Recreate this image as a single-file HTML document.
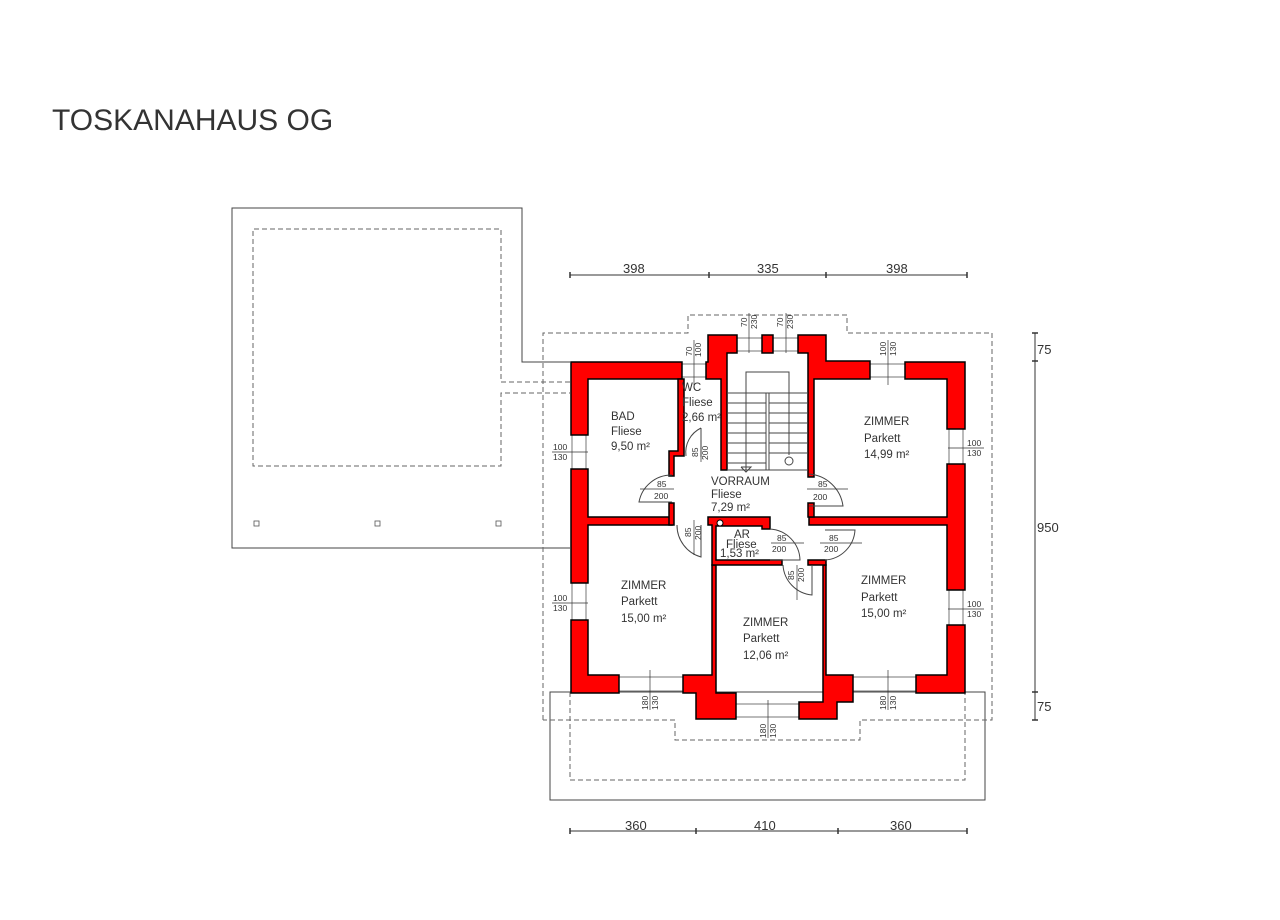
<!DOCTYPE html>
<html><head><meta charset="utf-8"><style>
html,body{margin:0;padding:0;background:#fff;width:1280px;height:920px;overflow:hidden}
svg{display:block}
text{font-family:"Liberation Sans",sans-serif;fill:#333}
.t{font-size:11.5px}
.s{font-size:8px}
</style></head><body>
<svg width="1280" height="920" viewBox="0 0 1280 920" xmlns="http://www.w3.org/2000/svg">
<text x="52" y="130" style="font-size:30px;fill:#333">TOSKANAHAUS OG</text>

<g fill="none" stroke="#444" stroke-width="1">
<polyline points="570,362 522,362 522,208 232,208 232,548 570,548"/>
<rect x="550" y="692" width="435" height="108"/>
</g>
<g fill="none" stroke="#666" stroke-width="1" stroke-dasharray="5,3">
<polyline points="570,382 501,382 501,229 253,229 253,466 501,466 501,393 570,393"/>
<polyline points="543,720 543,333 688,333 688,315 847,315 847,333 992,333 992,720 860,720 860,740 675,740 675,720 543,720"/>
<polyline points="570,692 570,780 965,780 965,692"/>
</g>
<g fill="none" stroke="#555" stroke-width="0.8">
<rect x="254" y="521" width="5" height="5"/><rect x="375" y="521" width="5" height="5"/><rect x="496" y="521" width="5" height="5"/>
</g>

<g stroke="#333" stroke-width="1" fill="none">
<line x1="570" y1="275" x2="967" y2="275"/>
<line x1="570" y1="831" x2="967" y2="831"/>
<line x1="1035" y1="333" x2="1035" y2="720"/>
</g>
<g stroke="#333" stroke-width="1.5">
<line x1="570" y1="272" x2="570" y2="278"/><line x1="709" y1="272" x2="709" y2="278"/><line x1="826" y1="272" x2="826" y2="278"/><line x1="967" y1="272" x2="967" y2="278"/>
<line x1="570" y1="828" x2="570" y2="834"/><line x1="696" y1="828" x2="696" y2="834"/><line x1="838" y1="828" x2="838" y2="834"/><line x1="967" y1="828" x2="967" y2="834"/>
<line x1="1032" y1="333" x2="1038" y2="333"/><line x1="1032" y1="361" x2="1038" y2="361"/><line x1="1032" y1="692" x2="1038" y2="692"/><line x1="1032" y1="720" x2="1038" y2="720"/>
</g>
<g style="font-size:13px">
<text x="623" y="273">398</text><text x="757" y="273">335</text><text x="886" y="273">398</text>
<text x="625" y="830">360</text><text x="754" y="830">410</text><text x="890" y="830">360</text>
<text x="1037" y="354">75</text><text x="1037" y="532">950</text><text x="1037" y="711">75</text>
</g>

<g stroke="#777" stroke-width="1" fill="none">
<rect x="572" y="435" width="14" height="34"/>
<rect x="572" y="583" width="14" height="37"/>
<rect x="949" y="429" width="14" height="35"/>
<rect x="949" y="590" width="14" height="35"/>
<rect x="619" y="677" width="64" height="14"/>
<rect x="853" y="677" width="63" height="14"/>
<rect x="736" y="704" width="63" height="13"/>
<rect x="682" y="364" width="24" height="13"/>
<rect x="870" y="364" width="35" height="13"/>
<rect x="737" y="338" width="25" height="13"/>
<rect x="773" y="338" width="25" height="13"/>
</g>

<g fill="#f00" stroke="#000" stroke-width="1.5">
<polygon points="571,362 682,362 682,379 588,379 588,435 571,435"/>
<polygon points="571,469 588,469 588,517 672,517 672,525 588,525 588,583 571,583"/>
<polygon points="571,620 588,620 588,675 619,675 619,693 571,693"/>
<polygon points="947,362 965,362 965,429 947,429 947,379 905,379 905,362"/>
<polygon points="947,464 965,464 965,590 947,590 947,525 809,525 809,517 947,517"/>
<polygon points="947,625 965,625 965,693 916,693 916,675 947,675"/>
<polygon points="683,675 712,675 712,565 716,565 716,693 736,693 736,719 696,719 696,693 683,693"/>
<polygon points="823,565 826,565 826,675 853,675 853,702 837,702 837,719 799,719 799,702 823,702"/>
<polygon points="708,335 737,335 737,353 727,353 727,470 721,470 721,379 706,379 706,362 708,362"/>
<polygon points="762,335 773,335 773,353 762,353"/>
<polygon points="798,335 826,335 826,361 870,361 870,379 814,379 814,477 808,477 808,353 798,353"/>
<polygon points="678,379 684,379 684,456 674,456 674,476 669,476 669,451 678,451"/>
<polygon points="669,503 674,503 674,525 669,525"/>
<polygon points="708,517 770,517 770,529 762,529 762,526 716,526 716,560 782,560 782,565 712,565 712,525 708,525"/>
<rect x="808" y="560" width="18" height="5"/>
<rect x="808" y="503" width="6" height="14"/>
</g>
<circle cx="720" cy="523" r="3" fill="#fff" stroke="#000"/>

<g stroke="#444" stroke-width="1" fill="none">
<polyline points="746,470 746,372 789,372 789,455"/>
<rect x="766" y="393" width="3" height="77"/>
<line x1="727" y1="470" x2="808" y2="470"/>
<line x1="727" y1="393" x2="766" y2="393"/><line x1="769" y1="393" x2="808" y2="393"/>
<line x1="727" y1="403" x2="766" y2="403"/><line x1="769" y1="403" x2="808" y2="403"/>
<line x1="727" y1="413" x2="766" y2="413"/><line x1="769" y1="413" x2="808" y2="413"/>
<line x1="727" y1="423" x2="766" y2="423"/><line x1="769" y1="423" x2="808" y2="423"/>
<line x1="727" y1="433" x2="766" y2="433"/><line x1="769" y1="433" x2="808" y2="433"/>
<line x1="727" y1="443" x2="766" y2="443"/><line x1="769" y1="443" x2="808" y2="443"/>
<line x1="727" y1="453" x2="766" y2="453"/><line x1="769" y1="453" x2="808" y2="453"/>
<line x1="727" y1="463" x2="766" y2="463"/>
<circle cx="789" cy="461" r="4"/>
<polyline points="741,467 746,472 751,467 741,467"/>
</g>

<g stroke="#444" stroke-width="1" fill="none">
<path d="M672,475 A33,33 0 0 0 639,502 L672,502"/>
<path d="M701,428 A27,27 0 0 0 686,456"/><line x1="701" y1="428" x2="701" y2="457"/>
<path d="M809,474 A37,37 0 0 1 843,506 L809,506"/>
<path d="M677,525 A33,33 0 0 0 701,557 L701,525"/>
<path d="M770,529 A32,32 0 0 1 800,560 L770,560"/>
<path d="M783,565 A32,32 0 0 0 812,595 L812,565"/>
<path d="M825,560 A32,32 0 0 0 855,530 L825,530"/>
</g>

<g class="s" stroke="#333" stroke-width="0.7">
<line x1="552" y1="452" x2="588" y2="452"/><line x1="552" y1="603" x2="588" y2="603"/>
<line x1="948" y1="448" x2="984" y2="448"/><line x1="948" y1="609" x2="984" y2="609"/>
<line x1="650" y1="670" x2="650" y2="710"/><line x1="888" y1="670" x2="888" y2="710"/><line x1="768" y1="700" x2="768" y2="738"/>
<line x1="694" y1="340" x2="694" y2="385"/><line x1="888" y1="340" x2="888" y2="385"/>
<line x1="749" y1="313" x2="749" y2="353"/><line x1="786" y1="313" x2="786" y2="353"/>
<line x1="640" y1="489" x2="674" y2="489"/><line x1="807" y1="489" x2="848" y2="489"/>
<line x1="771" y1="543" x2="804" y2="543"/><line x1="820" y1="543" x2="862" y2="543"/>
<line x1="701" y1="440" x2="701" y2="462"/><line x1="694" y1="520" x2="694" y2="555"/><line x1="797" y1="565" x2="797" y2="600"/>
</g>
<g class="s" style="font-size:8.5px">
<text x="553" y="450">100</text><text x="553" y="460">130</text>
<text x="553" y="601">100</text><text x="553" y="611">130</text>
<text x="967" y="446">100</text><text x="967" y="456">130</text>
<text x="967" y="607">100</text><text x="967" y="617">130</text>
<text x="818" y="487">85</text><text x="813" y="500">200</text>
<text x="657" y="487">85</text><text x="654" y="499">200</text>
<text x="777" y="541">85</text><text x="772" y="552">200</text>
<text x="829" y="541">85</text><text x="824" y="552">200</text>
<g transform="rotate(-90)">
<text x="-710" y="648">180</text><text x="-710" y="658">130</text>
<text x="-710" y="886">180</text><text x="-710" y="896">130</text>
<text x="-738" y="766">180</text><text x="-738" y="776">130</text>
<text x="-356" y="692">70</text><text x="-357" y="701">100</text>
<text x="-356" y="886">100</text><text x="-356" y="896">130</text>
<text x="-327" y="747">70</text><text x="-329" y="757">230</text>
<text x="-327" y="783">70</text><text x="-329" y="793">230</text>
<text x="-457" y="698">85</text><text x="-460" y="708">200</text>
<text x="-537" y="691">85</text><text x="-540" y="701">200</text>
<text x="-580" y="794">85</text><text x="-582" y="804">200</text>
</g>
</g>

<g class="t">
<text x="611" y="420">BAD</text><text x="611" y="435">Fliese</text><text x="611" y="450">9,50 m²</text>
<text x="682" y="391">WC</text><text x="682" y="406">Fliese</text><text x="682" y="421">2,66 m²</text>
<text x="864" y="425">ZIMMER</text><text x="864" y="442">Parkett</text><text x="864" y="458">14,99 m²</text>
<text x="711" y="485">VORRAUM</text><text x="711" y="498">Fliese</text><text x="711" y="511">7,29  m²</text>
<text x="734" y="538">AR</text><text x="726" y="548">Fliese</text><text x="720" y="557">1,53 m²</text>
<text x="621" y="589">ZIMMER</text><text x="621" y="605">Parkett</text><text x="621" y="622">15,00 m²</text>
<text x="861" y="584">ZIMMER</text><text x="861" y="601">Parkett</text><text x="861" y="617">15,00 m²</text>
<text x="743" y="626">ZIMMER</text><text x="743" y="642">Parkett</text><text x="743" y="659">12,06 m²</text>
</g>
</svg>
</body></html>
